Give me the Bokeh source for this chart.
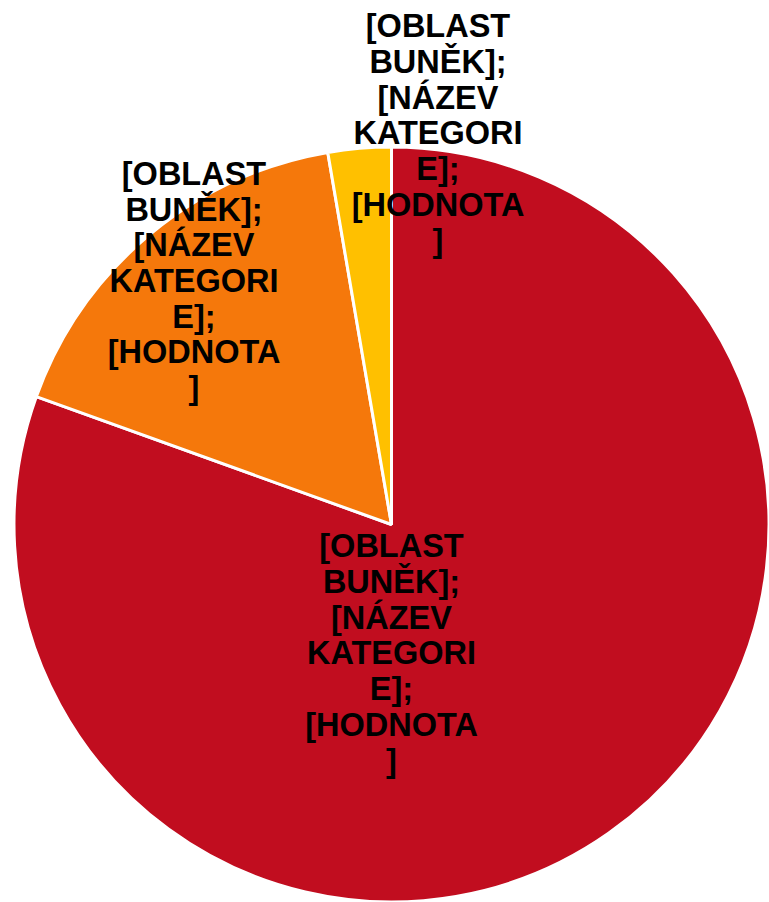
import math
from bokeh.plotting import figure
from bokeh.models import ColumnDataSource, Range1d
from bokeh.core.properties import value
from bokeh.embed import file_html
from bokeh.resources import INLINE

# ---- data ----
categories = ["A", "B", "C"]
values = [80.5, 16.8, 2.7]
colors = ["#C10D1F", "#F5780B", "#FFC000"]
label_texts = [
    "[OBLAST\nBUNĚK];\n[NÁZEV\nKATEGORI\nE];\n[HODNOTA\n]",
    "[OBLAST\nBUNĚK];\n[NÁZEV\nKATEGORI\nE];\n[HODNOTA\n]",
    "[OBLAST\nBUNĚK];\n[NÁZEV\nKATEGORI\nE];\n[HODNOTA\n]",
]

# ---- layout ----
W, H = 769, 902
CX, CY, R = 391, 378, 377.5
label_x = [391, 193.5, 437.5]
label_y = [249, 621.5, 769]

total = sum(values)
starts, ends = [], []
cum = 0.0
for v in values:
    c0 = cum / total
    cum += v
    c1 = cum / total
    # clockwise from 12 o'clock
    starts.append(math.pi / 2 - 2 * math.pi * c1)
    ends.append(math.pi / 2 - 2 * math.pi * c0)

src = ColumnDataSource(dict(cat=categories, val=values, color=colors,
                            start=starts, end=ends,
                            x=[CX] * len(values), y=[CY] * len(values)))

p = figure(width=W, height=H, output_backend="svg", toolbar_location=None,
           x_range=Range1d(0, W), y_range=Range1d(0, H), min_border=0)
p.axis.visible = False
p.grid.visible = False
p.outline_line_color = None
p.background_fill_color = "white"
p.border_fill_color = "white"

p.wedge(x="x", y="y", radius=R, start_angle="start", end_angle="end",
        fill_color="color", line_color="white", line_width=3, source=src)

lsrc = ColumnDataSource(dict(x=label_x, y=label_y, t=label_texts))
p.text(x="x", y="y", text="t", source=lsrc,
       text_font=value("Liberation Sans"), text_font_style="bold",
       text_font_size="32.5px", text_line_height=0.992,
       text_align="center", text_baseline="middle", text_color="black")

open("out.html", "w").write(file_html(p, INLINE))
